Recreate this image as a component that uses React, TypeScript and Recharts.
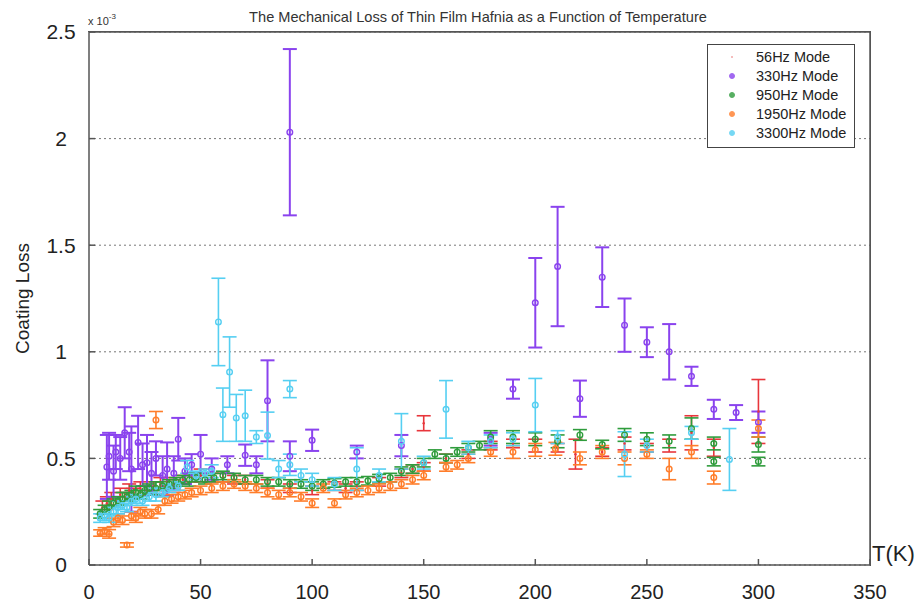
import React from 'react';
import { ScatterChart, Scatter, XAxis, YAxis, CartesianGrid, ErrorBar, Legend } from 'recharts';

const tempTicks = [0, 50, 100, 150, 200, 250, 300, 350];
const lossTicks = [0, 0.5, 1, 1.5, 2, 2.5];

// 56 Hz mode
const t56 = [6, 8, 10, 12, 14, 16, 18, 20, 23, 26, 29, 32, 35, 38, 42, 46, 50, 55, 60, 65, 70, 80, 90, 100, 110, 115, 120, 130, 140, 145, 150, 150, 160, 170, 180, 190, 200, 210, 218, 230, 240, 250, 260, 270, 280, 300];
const loss56 = [0.27, 0.29, 0.31, 0.30, 0.33, 0.32, 0.35, 0.34, 0.36, 0.35, 0.37, 0.38, 0.39, 0.38, 0.40, 0.41, 0.42, 0.41, 0.41, 0.40, 0.40, 0.38, 0.36, 0.35, 0.37, 0.36, 0.37, 0.39, 0.43, 0.45, 0.46, 0.665, 0.50, 0.52, 0.56, 0.57, 0.56, 0.55, 0.52, 0.53, 0.57, 0.55, 0.56, 0.62, 0.55, 0.72];
const err56 = [0.03, 0.03, 0.03, 0.02, 0.03, 0.02, 0.03, 0.02, 0.03, 0.02, 0.02, 0.03, 0.02, 0.02, 0.02, 0.02, 0.03, 0.02, 0.02, 0.02, 0.02, 0.02, 0.02, 0.02, 0.02, 0.02, 0.02, 0.02, 0.02, 0.02, 0.02, 0.035, 0.02, 0.02, 0.02, 0.02, 0.03, 0.02, 0.07, 0.02, 0.03, 0.02, 0.03, 0.08, 0.04, 0.15];

// 330 Hz mode
const t330 = [8, 9, 11, 12, 14, 16, 18, 19, 22, 24, 26, 28, 30, 33, 35, 38, 40, 43, 46, 50, 55, 62, 70, 75, 80, 90, 90, 100, 120, 140, 180, 190, 200, 210, 220, 230, 240, 250, 260, 270, 280, 290, 300];
const loss330 = [0.46, 0.51, 0.44, 0.53, 0.50, 0.62, 0.53, 0.45, 0.575, 0.47, 0.48, 0.43, 0.50, 0.42, 0.45, 0.43, 0.59, 0.44, 0.47, 0.52, 0.45, 0.47, 0.515, 0.47, 0.77, 2.03, 0.51, 0.585, 0.53, 0.56, 0.59, 0.825, 1.23, 1.40, 0.78, 1.35, 1.125, 1.045, 1.00, 0.885, 0.73, 0.715, 0.67];
const err330 = [0.15, 0.11, 0.12, 0.08, 0.10, 0.12, 0.09, 0.20, 0.125, 0.10, 0.13, 0.10, 0.08, 0.09, 0.125, 0.08, 0.10, 0.06, 0.05, 0.09, 0.05, 0.04, 0.05, 0.04, 0.19, 0.39, 0.07, 0.05, 0.03, 0.05, 0.03, 0.045, 0.21, 0.28, 0.085, 0.14, 0.125, 0.07, 0.13, 0.045, 0.045, 0.035, 0.05];

// 950 Hz mode
const t950 = [5, 7, 9, 11, 13, 15, 17, 19, 21, 23, 25, 27, 30, 33, 36, 39, 42, 45, 48, 52, 56, 60, 65, 70, 75, 80, 85, 90, 95, 100, 105, 110, 115, 120, 125, 130, 135, 140, 145, 150, 155, 160, 165, 170, 175, 180, 190, 200, 210, 220, 230, 240, 250, 260, 270, 280, 280, 300, 300];
const loss950 = [0.24, 0.26, 0.27, 0.29, 0.30, 0.31, 0.32, 0.33, 0.34, 0.33, 0.35, 0.36, 0.36, 0.37, 0.38, 0.39, 0.40, 0.40, 0.41, 0.40, 0.41, 0.42, 0.41, 0.40, 0.40, 0.39, 0.39, 0.38, 0.38, 0.37, 0.38, 0.385, 0.39, 0.39, 0.395, 0.405, 0.41, 0.44, 0.45, 0.48, 0.52, 0.50, 0.53, 0.55, 0.56, 0.60, 0.60, 0.59, 0.58, 0.61, 0.565, 0.61, 0.59, 0.58, 0.64, 0.57, 0.485, 0.565, 0.485];
const err950 = [0.02, 0.02, 0.03, 0.02, 0.02, 0.03, 0.02, 0.02, 0.03, 0.02, 0.02, 0.02, 0.03, 0.02, 0.02, 0.02, 0.02, 0.03, 0.02, 0.02, 0.02, 0.02, 0.02, 0.02, 0.02, 0.02, 0.02, 0.02, 0.02, 0.02, 0.02, 0.02, 0.02, 0.02, 0.02, 0.02, 0.02, 0.02, 0.02, 0.02, 0.02, 0.02, 0.02, 0.02, 0.02, 0.03, 0.03, 0.03, 0.03, 0.025, 0.02, 0.03, 0.03, 0.03, 0.05, 0.03, 0.02, 0.035, 0.02];

// 1950 Hz mode
const t1950 = [5, 7, 9, 11, 13, 15, 17, 19, 21, 23, 25, 28, 30, 31, 34, 37, 40, 43, 46, 50, 55, 60, 65, 70, 75, 80, 85, 90, 95, 100, 105, 110, 115, 120, 125, 130, 135, 140, 145, 150, 160, 165, 170, 180, 190, 200, 209, 220, 230, 240, 250, 260, 270, 280, 300];
const loss1950 = [0.15, 0.16, 0.146, 0.20, 0.22, 0.21, 0.094, 0.23, 0.22, 0.25, 0.24, 0.24, 0.68, 0.26, 0.30, 0.31, 0.32, 0.33, 0.34, 0.35, 0.36, 0.37, 0.38, 0.37, 0.36, 0.34, 0.33, 0.34, 0.32, 0.29, 0.36, 0.29, 0.33, 0.34, 0.35, 0.36, 0.37, 0.38, 0.40, 0.42, 0.46, 0.47, 0.50, 0.53, 0.53, 0.54, 0.545, 0.50, 0.53, 0.50, 0.52, 0.45, 0.53, 0.41, 0.64];
const err1950 = [0.015, 0.015, 0.02, 0.02, 0.02, 0.02, 0.01, 0.02, 0.02, 0.02, 0.02, 0.02, 0.04, 0.02, 0.02, 0.02, 0.02, 0.02, 0.02, 0.02, 0.02, 0.02, 0.02, 0.02, 0.02, 0.02, 0.02, 0.02, 0.02, 0.02, 0.02, 0.02, 0.02, 0.02, 0.02, 0.02, 0.02, 0.02, 0.02, 0.02, 0.02, 0.02, 0.02, 0.02, 0.03, 0.03, 0.03, 0.03, 0.03, 0.03, 0.02, 0.05, 0.03, 0.03, 0.04];

// 3300 Hz mode
const t3300 = [5, 7, 9, 11, 13, 15, 17, 19, 21, 24, 27, 30, 33, 36, 40, 44, 48, 52, 55, 58, 60, 63, 66, 70, 75, 80, 85, 90, 90, 95, 100, 110, 120, 130, 140, 150, 160, 170, 180, 190, 200, 210, 240, 250, 270, 287];
const loss3300 = [0.22, 0.23, 0.22, 0.25, 0.27, 0.28, 0.27, 0.30, 0.31, 0.30, 0.32, 0.33, 0.34, 0.36, 0.37, 0.46, 0.42, 0.43, 0.44, 1.14, 0.705, 0.905, 0.69, 0.70, 0.60, 0.607, 0.45, 0.825, 0.47, 0.42, 0.40, 0.38, 0.45, 0.42, 0.58, 0.48, 0.73, 0.55, 0.58, 0.59, 0.75, 0.60, 0.52, 0.56, 0.62, 0.495];
const err3300 = [0.02, 0.02, 0.02, 0.02, 0.03, 0.02, 0.02, 0.02, 0.02, 0.02, 0.02, 0.03, 0.02, 0.02, 0.02, 0.03, 0.02, 0.02, 0.03, 0.205, 0.125, 0.165, 0.11, 0.12, 0.03, 0.11, 0.04, 0.04, 0.05, 0.03, 0.03, 0.03, 0.1, 0.03, 0.13, 0.03, 0.135, 0.03, 0.03, 0.03, 0.125, 0.03, 0.105, 0.03, 0.03, 0.145];

const toPoints = (t: number[], l: number[], e: number[]) =>
  t.map((x, i) => ({ t: x, loss: l[i], err: e[i] }));

// The 56 Hz series is tied to the (identical) top/right axes of the MATLAB-style box.
const series = [
  { name: '56Hz Mode', color: '#e8363c', legendColor: '#f2a6a6', dot: true, xId: 'top', yId: 'right', data: toPoints(t56, loss56, err56) },
  { name: '330Hz Mode', color: '#8a43ee', legendColor: '#8a43ee', dot: false, xId: 0, yId: 0, data: toPoints(t330, loss330, err330) },
  { name: '950Hz Mode', color: '#2f9c3c', legendColor: '#2f9c3c', dot: false, xId: 0, yId: 0, data: toPoints(t950, loss950, err950) },
  { name: '1950Hz Mode', color: '#ff7d2a', legendColor: '#ff7d2a', dot: false, xId: 0, yId: 0, data: toPoints(t1950, loss1950, err1950) },
  { name: '3300Hz Mode', color: '#55cff2', legendColor: '#55cff2', dot: false, xId: 0, yId: 0, data: toPoints(t3300, loss3300, err3300) },
];

const FONT = '"Liberation Sans", Arial, Helvetica, sans-serif';

const makeShape = (color: string, dot: boolean) => (props: any) => {
  if (props.cx == null || props.cy == null) return <g />;
  return dot ? (
    <circle cx={props.cx} cy={props.cy} r={1.2} fill={color} />
  ) : (
    <circle cx={props.cx} cy={props.cy} r={2.8} fill="none" stroke={color} strokeWidth={1.4} />
  );
};

const LegendBox = () => (
  <div
    style={{
      width: 146,
      height: 100,
      border: '1px solid #444',
      background: '#fff',
      fontFamily: FONT,
      fontSize: 14.5,
      color: '#222',
      boxSizing: 'content-box',
      paddingTop: 2,
    }}
  >
    {series.map((s) => (
      <div key={s.name} style={{ display: 'flex', alignItems: 'center', height: 19 }}>
        <div style={{ width: 48, display: 'flex', justifyContent: 'center' }}>
          {s.dot ? (
            <span style={{ width: 2, height: 2, borderRadius: 1, background: s.legendColor, display: 'inline-block' }} />
          ) : (
            <span
              style={{
                width: 4,
                height: 4,
                borderRadius: 3,
                border: `1px solid ${s.color}`,
                background: s.color,
                opacity: 0.8,
                display: 'inline-block',
              }}
            />
          )}
        </div>
        <span>{s.name}</span>
      </div>
    ))}
  </div>
);

const YLabel = (props: any) => {
  const vb = props.viewBox || {};
  const x = (vb.x ?? 0) + 5;
  const y = (vb.y ?? 0) + (vb.height ?? 0) / 2;
  return (
    <text
      x={x}
      y={y}
      transform={`rotate(-90 ${x} ${y})`}
      textAnchor="middle"
      dominantBaseline="central"
      fontSize={19}
      fill="#222"
      fontFamily={FONT}
    >
      Coating Loss
    </text>
  );
};

export default function App() {
  return (
    <div style={{ position: 'fixed', left: 0, top: 0, width: 924, height: 606, background: '#fff', fontFamily: FONT }}>
      <div
        style={{
          position: 'absolute',
          left: 478,
          top: 10,
          transform: 'translateX(-50%)',
          whiteSpace: 'nowrap',
          fontSize: 14.6,
          lineHeight: '15px',
          color: '#333',
          zIndex: 2,
        }}
      >
        The Mechanical Loss of Thin Film Hafnia as a Function of Temperature
      </div>
      <div style={{ position: 'absolute', left: 88, top: 14, fontSize: 11, lineHeight: '14px', color: '#333', whiteSpace: 'nowrap', zIndex: 2 }}>
        x 10<sup style={{ fontSize: 8, verticalAlign: 'top', position: 'relative', top: -4 }}>-3</sup>
      </div>
      <div style={{ position: 'absolute', left: 872, top: 541, fontSize: 22, lineHeight: '26px', color: '#222', zIndex: 2 }}>T(K)</div>
      {/* top and right edges of the plot box */}
      <div
        style={{
          position: 'absolute',
          left: 88,
          top: 31,
          width: 783,
          height: 535,
          borderTop: '1.5px solid #555',
          borderRight: '1.5px solid #555',
          boxSizing: 'border-box',
          pointerEvents: 'none',
          zIndex: 1,
        }}
      />
      <ScatterChart width={924} height={606} margin={{ top: 12, right: 24, bottom: 5, left: 17 }}>
        <CartesianGrid vertical={false} strokeDasharray="2 3" stroke="#777" />
        <XAxis
          dataKey="t"
          type="number"
          domain={[0, 350]}
          ticks={tempTicks}
          height={36}
          tickSize={-6}
          tickMargin={26}
          stroke="#555"
          strokeWidth={1.5}
          tick={{ fontSize: 20, fill: '#222', fontFamily: FONT }}
        />
        <XAxis
          xAxisId="top"
          dataKey="t"
          orientation="top"
          type="number"
          domain={[0, 350]}
          ticks={tempTicks}
          height={20}
          tickSize={-6}
          stroke="#555"
          strokeWidth={1.5}
          tick={false}
        />
        <YAxis
          dataKey="loss"
          type="number"
          domain={[0, 2.5]}
          ticks={lossTicks}
          width={72}
          tickSize={-6}
          tickMargin={34}
          stroke="#555"
          strokeWidth={1.5}
          tick={{ fontSize: 21, fill: '#222', fontFamily: FONT, textAnchor: 'middle' }}
          label={<YLabel />}
        />
        <YAxis
          yAxisId="right"
          dataKey="loss"
          orientation="right"
          type="number"
          domain={[0, 2.5]}
          ticks={lossTicks}
          width={30}
          tickSize={-6}
          stroke="#555"
          strokeWidth={1.5}
          tick={false}
        />
        <Legend
          layout="horizontal"
          verticalAlign="middle"
          align="center"
          content={() => <LegendBox />}
          wrapperStyle={{ left: 707, top: 44, width: 148, height: 103, zIndex: 3 }}
        />
        {series.map((s) => (
          <Scatter
            key={s.name}
            name={s.name}
            data={s.data}
            xAxisId={s.xId}
            yAxisId={s.yId}
            fill={s.color}
            isAnimationActive={false}
            shape={makeShape(s.color, s.dot)}
          >
            <ErrorBar
              dataKey="err"
              direction="y"
              width={7}
              stroke={s.color}
              strokeWidth={s.name === '330Hz Mode' ? 2 : 1.6}
              isAnimationActive={false}
            />
          </Scatter>
        ))}
      </ScatterChart>
    </div>
  );
}
